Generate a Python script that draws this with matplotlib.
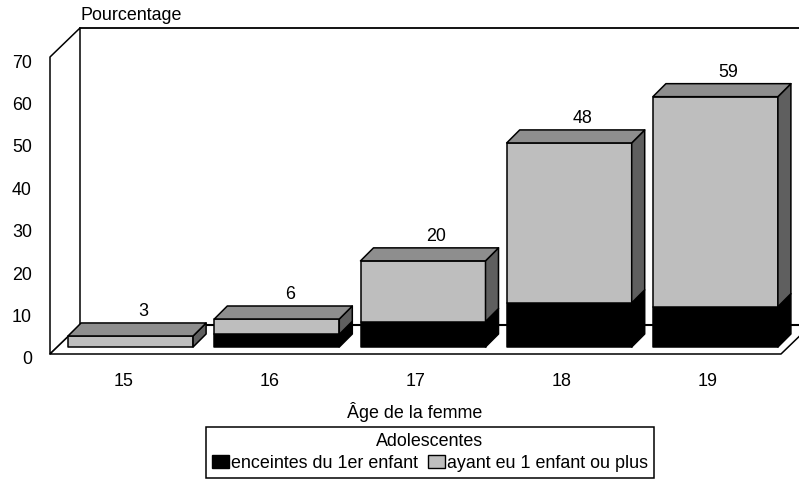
import matplotlib
matplotlib.use("Agg")
import matplotlib.pyplot as plt
from matplotlib.patches import Patch, Polygon
from matplotlib.transforms import ScaledTranslation

ages = [15, 16, 17, 18, 19]
enceintes = [0, 3, 6, 10.4, 9.5]
ayant_eu = [2.6, 3.6, 14.3, 37.7, 49.5]
totals = [3, 6, 20, 48, 59]
y_ticks = [0, 10, 20, 30, 40, 50, 60, 70]

BLACK = "#000000"
LIGHT = "#BEBEBE"
TOP = "#8E8E8E"
SIDE = "#5F5F5F"

plt.rcParams["font.family"] = ["Liberation Sans", "DejaVu Sans"]
plt.rcParams["font.size"] = 12.9

W, H = 799, 480
fig = plt.figure(figsize=(W / 100, H / 100), dpi=100)
# axes = front plane of the fake 3d box
ax = fig.add_axes([50 / W, 1 - 354 / H, 731 / W, 297 / H])
ax.set_xlim(14.5, 19.5)
ax.set_ylim(0, 70)

# pixel sizes converted to data units
px_x = 5 / 731
px_y = 70 / 297
wall_dx, wall_dy = 30 * px_x, 29 * px_y
bar_dx, bar_dy = 13 * px_x, 13 * px_y
inset_x, inset_y = 7.5 * px_x, 7 * px_y
bar_w = 125 * px_x


def poly(points, face, edge=BLACK, lw=1.1, z=2):
    ax.add_patch(Polygon(points, closed=True, facecolor=face, edgecolor=edge,
                         linewidth=lw, clip_on=False, zorder=z, joinstyle="round"))


# walls and floor
poly([(14.5, 0), (14.5 + wall_dx, wall_dy), (14.5 + wall_dx, 70 + wall_dy), (14.5, 70)], "white", z=1)
poly([(14.5, 0), (19.5, 0), (19.5 + wall_dx, wall_dy), (14.5 + wall_dx, wall_dy)], "white", z=1)
ax.plot([14.5 + wall_dx, 19.5 + wall_dx], [70 + wall_dy] * 2, color=BLACK, lw=1.3,
        clip_on=False, zorder=1)
ax.plot([14.5 + wall_dx, 19.5 + wall_dx], [wall_dy] * 2, color=BLACK, lw=1.5,
        clip_on=False, zorder=1)

for age, low, high, total in zip(ages, enceintes, ayant_eu, totals):
    x0 = age - bar_w / 2 + inset_x
    x1 = x0 + bar_w
    base = inset_y
    mid = base + low
    top = mid + high
    if low > 0:
        poly([(x0, base), (x1, base), (x1, mid), (x0, mid)], BLACK, z=3)
        poly([(x1, base), (x1 + bar_dx, base + bar_dy), (x1 + bar_dx, mid + bar_dy), (x1, mid)],
             BLACK, z=3)
    poly([(x0, mid), (x1, mid), (x1, top), (x0, top)], LIGHT, z=4)
    poly([(x1, mid), (x1 + bar_dx, mid + bar_dy), (x1 + bar_dx, top + bar_dy), (x1, top)], SIDE, z=4)
    poly([(x0, top), (x1, top), (x1 + bar_dx, top + bar_dy), (x0 + bar_dx, top + bar_dy)], TOP, z=4)
    ax.text(age + inset_x + bar_dx, top + bar_dy + 11.5 * px_y, str(total),
            ha="center", va="center", zorder=5)

for side in ax.spines.values():
    side.set_visible(False)
ax.patch.set_visible(False)

ax.set_xticks(ages)
ax.set_yticks(y_ticks)
ax.tick_params(axis="both", length=0)
ax.tick_params(axis="x", pad=14)
ax.tick_params(axis="y", pad=13)
shift = ScaledTranslation(0, -4 / 100, fig.dpi_scale_trans)
for lab in ax.get_yticklabels():
    lab.set_transform(lab.get_transform() + shift)

fig.text(80 / W, 1 - 15 / H, "Pourcentage", ha="left", va="center")
fig.text(415 / W, 1 - 412 / H, "Âge de la femme", ha="center", va="center")

handles = [Patch(facecolor=BLACK, edgecolor=BLACK, label="enceintes du 1er enfant"),
           Patch(facecolor=LIGHT, edgecolor=BLACK, label="ayant eu 1 enfant ou plus")]
leg = fig.legend(handles=handles, title="Adolescentes", ncol=2, loc="center",
                 bbox_to_anchor=(430 / W, 1 - 452.5 / H), fancybox=False, framealpha=1,
                 edgecolor=BLACK, handlelength=0.95, handleheight=0.67, handletextpad=0.1,
                 columnspacing=0.6, borderpad=0.35, labelspacing=0.25, borderaxespad=0)
leg.get_frame().set_linewidth(1.1)
leg.get_title().set_fontsize(12.9)

fig.savefig("out.png", dpi=100)
